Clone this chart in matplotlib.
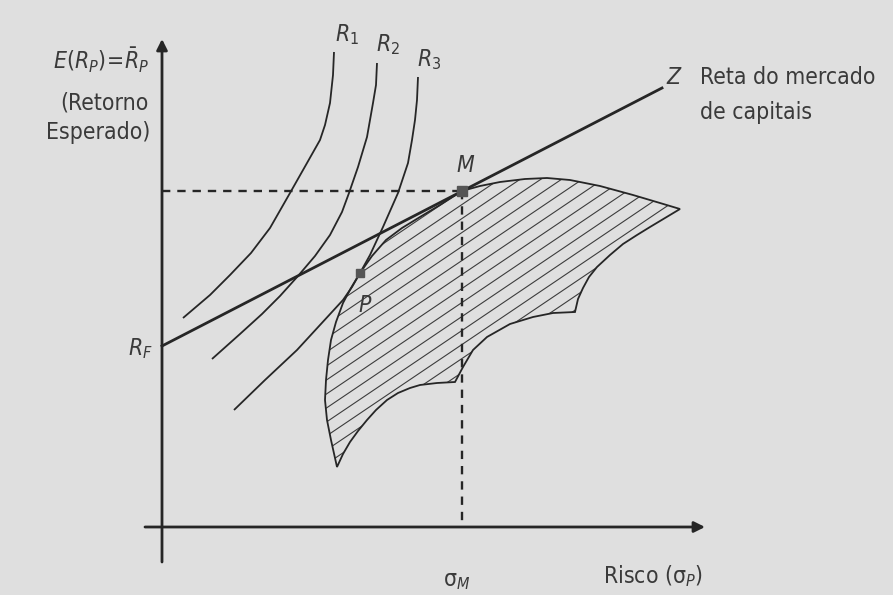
import numpy as np
import matplotlib
matplotlib.use("Agg")
import matplotlib.pyplot as plt
from matplotlib import font_manager as fm
from matplotlib.patches import Polygon

# ---------------- data (risk sigma, expected return), arbitrary units ----------------
rf_return = 181                      # R_F on the return axis
cml_sigma = [0, 500]                 # capital market line (Reta do mercado de capitais)
cml_return = [181, 439]
m_point = (300, 336)                 # market portfolio M
p_point = (198, 254)                 # portfolio P

r1_sigma = [21, 48, 68, 89, 108, 128, 145, 158, 163, 168, 171, 172]
r1_return = [209, 232, 252, 274, 299, 334, 364, 387, 402, 424, 452, 475]

r2_sigma = [50, 78, 100, 118, 136, 153, 168, 180, 187, 196, 205, 211, 214, 215]
r2_return = [168, 193, 213, 231, 251, 271, 292, 315, 334, 360, 390, 424, 442, 464]

r3_sigma = [72, 103, 135, 158, 181, 190, 198, 208, 221, 236, 246, 250, 253, 255, 256]
r3_return = [117, 147, 177, 202, 227, 240, 254, 272, 300, 334, 364, 387, 407, 427, 450]

# feasible set outline (clockwise from the lower tip)
region_sigma = [175, 169, 165, 163, 164, 166, 169, 174, 181, 189, 198, 210, 224, 240, 258,
                278, 300, 318, 338, 363, 385, 408, 438, 471, 498, 518,
                503, 488, 475, 461, 448, 435, 427, 421, 416, 413,
                391, 371, 348, 325, 311, 301, 293,
                275, 258, 248, 236, 225, 214, 205, 196, 188, 181]
region_return = [60, 87, 107, 127, 147, 167, 187, 205, 224, 239, 254, 271, 287, 299, 310,
                 322, 336, 341, 345, 348, 349, 347, 341, 332, 324, 318,
                 309, 300, 292, 283, 272, 260, 250, 239, 228, 215,
                 214, 210, 203, 190, 177, 160, 145,
                 144, 142, 139, 134, 127, 117, 107, 96, 85, 73]

# ---------------- styling ----------------
bg = "#dfdfdf"
ink = "#262626"
txt = "#3a3a3a"

names = {f.name for f in fm.fontManager.ttflist}
cond = [f for f in fm.fontManager.ttflist if f.name == "DejaVu Sans" and "ondensed" in f.fname]
if "Liberation Sans Narrow" in names:
    fam, stretch = "Liberation Sans Narrow", "normal"
elif cond:
    fam, stretch = "DejaVu Sans", "condensed"
else:
    fam, stretch = "Liberation Sans", "normal"

plt.rcParams["font.family"] = [fam, "DejaVu Sans"]
plt.rcParams["font.stretch"] = stretch
plt.rcParams["mathtext.fontset"] = "custom"
plt.rcParams["mathtext.rm"] = f"{fam}:stretch={stretch}"
plt.rcParams["mathtext.it"] = f"{fam}:italic:stretch={stretch}"
plt.rcParams["mathtext.bf"] = f"{fam}:bold:stretch={stretch}"
plt.rcParams["lines.scale_dashes"] = False

fig = plt.figure(figsize=(8.93, 5.95), dpi=100)
fig.patch.set_facecolor(bg)
ax = fig.add_axes([0, 0, 1, 1])
ax.set_facecolor(bg)
ax.set_xlim(-162, 731)
ax.set_ylim(-68, 527)
ax.axis("off")

# axes with arrows
arrow = dict(arrowstyle="-|>", lw=2.0, color=ink, mutation_scale=16,
             shrinkA=0, shrinkB=0)
ax.annotate("", xy=(0, 488), xytext=(0, -35), arrowprops=arrow)
ax.annotate("", xy=(543, 0), xytext=(-17, 0), arrowprops=arrow)

# feasible region with hatching
poly = Polygon(np.column_stack([region_sigma, region_return]), closed=True,
               facecolor="none", edgecolor=ink, lw=1.3, joinstyle="miter", zorder=3)
ax.add_patch(poly)
for c in np.arange(-90, 160, 14):
    xs = np.array([100, 560])
    ln, = ax.plot(xs, 0.675 * xs + c, color="#3c3c3c", lw=0.8, zorder=2)
    ln.set_clip_path(poly)

# dashed guides to M
ax.plot([0, m_point[0]], [m_point[1], m_point[1]], color=ink, lw=1.7,
        dashes=(6, 5), zorder=2)
ax.plot([m_point[0], m_point[0]], [m_point[1], 0], color=ink, lw=1.7,
        dashes=(6, 5), zorder=2)

# capital market line
ax.plot(cml_sigma, cml_return, color=ink, lw=2.0, zorder=4)

# indifference curves
for s, r in [(r1_sigma, r1_return), (r2_sigma, r2_return), (r3_sigma, r3_return)]:
    ax.plot(s, r, color=ink, lw=1.3, zorder=4, solid_capstyle="butt")

# points
ax.plot(*m_point, marker="s", ms=6.5, color="#555555", zorder=5)
ax.plot(*p_point, marker="s", ms=6, color="#555555", zorder=5)

# texts
fs = 16.5
kw = dict(fontsize=fs, color=txt)
ax.text(-13, 467, r"$E(R_P)\!=\!\bar{R}_P$", ha="right", va="center", **kw)
ax.text(-13, 424, "(Retorno", ha="right", va="center", **kw)
ax.text(-12, 394, "Esperado)", ha="right", va="center", **kw)
ax.text(-22, 178, r"$R_F$", ha="center", va="center", **kw)
ax.text(185, 492, r"$R_1$", ha="center", va="center", **kw)
ax.text(226, 482, r"$R_2$", ha="center", va="center", **kw)
ax.text(267, 467, r"$R_3$", ha="center", va="center", **kw)
ax.text(511, 450, "Z", ha="center", va="center", style="italic", **kw)
ax.text(538, 450, "Reta do mercado", ha="left", va="center", **kw)
ax.text(538, 415, "de capitais", ha="left", va="center", **kw)
ax.text(303, 362, "M", ha="center", va="center", style="italic", **kw)
ax.text(203, 222, "P", ha="center", va="center", style="italic", **kw)
ax.text(541, -49, r"Risco ($\mathrm{\sigma}_P$)", ha="right", va="center", **kw)
ax.text(295, -53, r"$\mathrm{\sigma}_M$", ha="center", va="center", **kw)

fig.savefig("out.png", dpi=100, facecolor=bg)
